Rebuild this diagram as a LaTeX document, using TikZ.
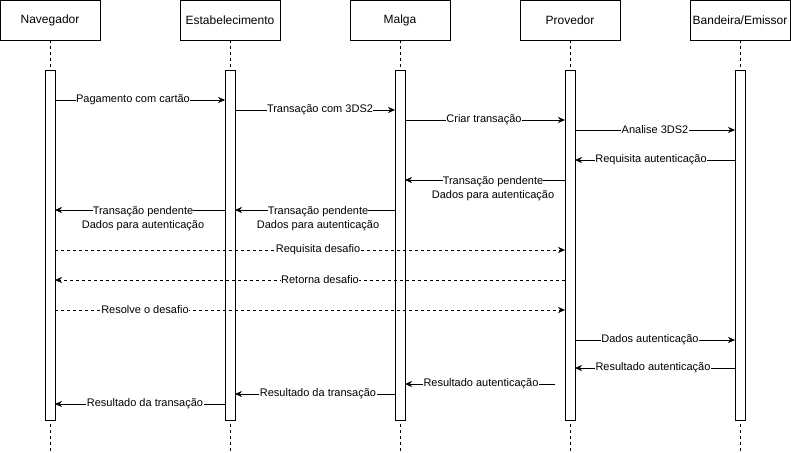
\documentclass[tikz,border=0pt]{standalone}
\usepackage{fontspec}
\setmainfont{Liberation Sans}
\usetikzlibrary{arrows.meta}
\begin{document}
\begin{tikzpicture}[x=1pt,y=-1pt,
 head/.style={draw,fill=white,minimum width=100pt,minimum height=40pt,font=\fontsize{12}{14}\selectfont,inner sep=0pt},
 bar/.style={draw,fill=white,minimum width=10pt,minimum height=350pt,inner sep=0pt},
 life/.style={dash pattern=on 3pt off 3pt},
 msg/.style={-{Stealth[length=7pt,width=6pt]}},
 dmsg/.style={msg,dash pattern=on 3pt off 3pt},
 lab/.style={fill=white,font=\fontsize{11}{14}\selectfont,inner sep=0.5pt,align=center}]
\useasboundingbox (0,0) rectangle (791,452);
\foreach \n/\x/\t in {nav/50/Navegador,est/230/Estabelecimento,mal/400/Malga,pro/570/Provedor,ban/740/{Bandeira/Emissor}}{
 \draw[life] (\x,40) -- (\x,452);
 \node[head] (\n) at (\x,20) {\t};
 \node[bar] (\n b) at (\x,245) {};
}
\def\m#1#2#3#4#5#6{\coordinate (s) at (#2,#4); \coordinate (e) at (#3,#4);
 \draw[#1] (s) -- (e); \node[lab] at (#5,#4) {#6};}
\m{msg}{55}{225}{100}{133}{Pagamento com cartão}
\m{msg}{235}{395}{110}{320}{Transação com 3DS2}
\m{msg}{405}{565}{120}{484}{Criar transação}
\m{msg}{575}{735}{130}{655}{Analise 3DS2}
\m{msg}{735}{575}{160}{651}{Requisita autenticação}
\draw[msg] (565,180) -- (405,180);
\node[lab,fill=none] at (493,187) {\colorbox{white}{\hspace{-3pt}Transação pendente\hspace{-3pt}}\\Dados para autenticação};
\draw[msg] (395,210) -- (235,210);
\node[lab,fill=none] at (318,217) {\colorbox{white}{\hspace{-3pt}Transação pendente\hspace{-3pt}}\\Dados para autenticação};
\draw[msg] (225,210) -- (55,210);
\node[lab,fill=none] at (143,217) {\colorbox{white}{\hspace{-3pt}Transação pendente\hspace{-3pt}}\\Dados para autenticação};
\m{dmsg}{55}{565}{250}{318}{Requisita desafio}
\m{dmsg}{565}{55}{280}{320}{Retorna desafio}
\m{dmsg}{55}{565}{310}{145}{Resolve o desafio}
\m{msg}{575}{735}{340}{650}{Dados autenticação}
\m{msg}{735}{575}{368}{653}{Resultado autenticação}
\m{msg}{555}{405}{384}{481}{Resultado autenticação}
\m{msg}{395}{235}{394}{318}{Resultado da transação}
\m{msg}{225}{55}{404}{145}{Resultado da transação}
\end{tikzpicture}
\end{document}
